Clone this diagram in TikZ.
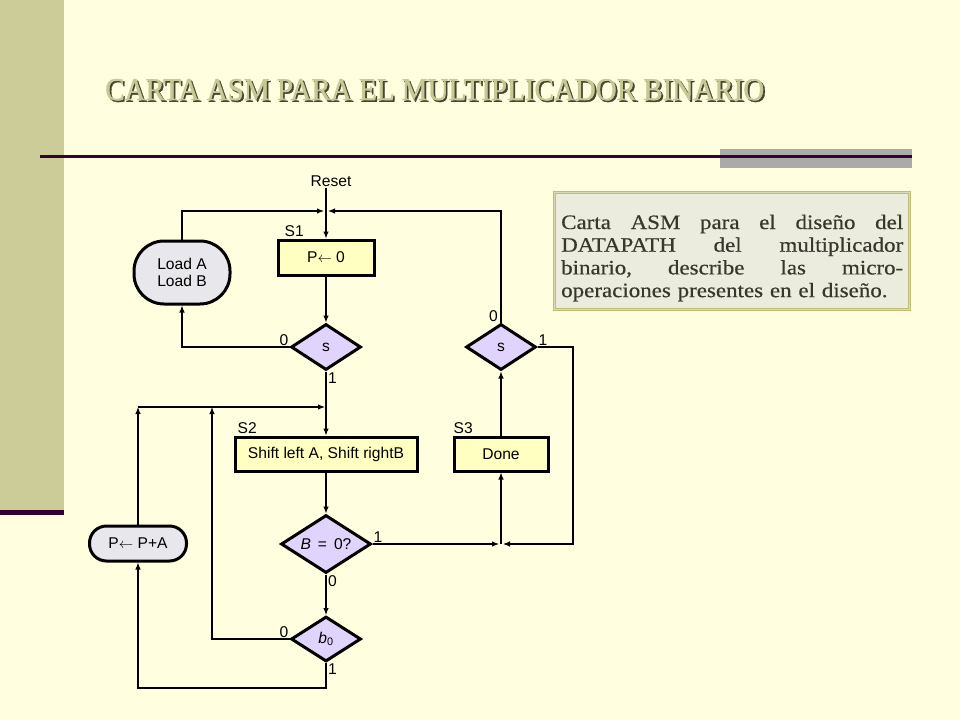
\documentclass[tikz,border=0pt]{standalone}
\usepackage{fontspec}
\usepackage{graphicx}
\setmainfont{Liberation Sans}
\newfontfamily\serifa[FakeBold=1.2]{Liberation Serif}
\newfontfamily\serifaancha[FakeStretch=1.12,FakeBold=0.5]{Liberation Serif}
\usetikzlibrary{shapes.geometric,arrows.meta,positioning}

\definecolor{fondo}{RGB}{255,255,224}
\definecolor{barra}{RGB}{204,204,153}
\definecolor{oscuro}{RGB}{51,0,51}
\definecolor{gris}{RGB}{170,170,170}
\definecolor{titulo}{RGB}{200,200,150}
\definecolor{sombra}{RGB}{70,70,50}
\definecolor{caja}{RGB}{236,236,222}
\definecolor{bordecaja}{RGB}{190,190,118}
\definecolor{textocaja}{RGB}{55,55,45}
\definecolor{amarillo}{RGB}{255,255,194}
\definecolor{lila}{RGB}{225,212,252}
\definecolor{grisclaro}{RGB}{232,232,236}

\begin{document}
\begin{tikzpicture}[x=1pt,y=-1pt]
% Styles
\tikzstyle{flecha}=[-{Latex[length=7pt,width=5.5pt]},line width=1.1pt]
\tikzstyle{estado}=[fill=amarillo,draw,line width=3pt,inner sep=0pt,font=\fontsize{15.6}{17}\selectfont]
\tikzstyle{decision}=[diamond,aspect=1.5,fill=lila,draw,line width=3pt,inner sep=0pt,font=\fontsize{15.6}{17}\selectfont]
\tikzstyle{ovalo}=[fill=grisclaro,draw,line width=3pt,inner sep=0pt,align=center,font=\fontsize{15.6}{16.5}\selectfont]
\tikzstyle{rotulo}=[inner sep=1pt,font=\fontsize{15.6}{17}\selectfont]
% Columnas y filas (en pixeles)
\def\ColSuma{138}
\def\ColCarga{182}
\def\ColRetorno{212}
\def\ColCentro{326}
\def\ColDer{501}
\def\ColExt{573}
\def\FilaJuntaA{211}
\def\FilaDec{347}
\def\FilaJuntaB{407}
\def\FilaEstado{454}
\def\FilaB{544}
\def\FilaBcero{639}
\def\FilaFondo{688}
% Fondo de la diapositiva
\useasboundingbox (0,0) rectangle (960,720);
\fill[fondo] (0,0) rectangle (960,720);
\fill[barra] (0,0) rectangle (64,510);
\fill[oscuro] (0,510) rectangle (64,515);
\fill[gris] (720,149) rectangle (912,168);
\fill[oscuro] (40,155) rectangle (912,158);
\node[anchor=base west,inner sep=0pt,text=sombra] (sombraTitulo) at (106.8,101.8)
  {\serifa\resizebox{659pt}{21pt}{CARTA ASM PARA EL MULTIPLICADOR BINARIO}};
\node[anchor=base west,inner sep=0pt,text=titulo] (titulo) at (105,100)
  {\serifa\resizebox{659pt}{21pt}{CARTA ASM PARA EL MULTIPLICADOR BINARIO}};
% Cuadro de texto
\node[draw=bordecaja,double=caja!60!bordecaja,double distance=1pt,line width=1.2pt,fill=caja,
  minimum width=355pt,minimum height=117pt] (caja) at (732,251) {};
\node[anchor=base west,inner sep=0pt,text width=342pt,text=textocaja,
  font=\serifaancha\fontsize{20.5}{22.7}\selectfont] (texto) at (561,229)
  {Carta\hfill ASM\hfill para\hfill el\hfill diseño\hfill del\\
   DATAPATH\hfill del\hfill multiplicador\\
   binario,\hfill describe\hfill las\hfill micro-\\
   operaciones presentes en el diseño.};
% Noeuds
\node[rotulo] (reset) at (331,181) {Reset};
\node[estado,minimum width=96pt,minimum height=35pt] (S1) at (\ColCentro,257.5) {P$\leftarrow$ 0};
\node[ovalo,minimum width=96pt,minimum height=63pt,rounded corners=30pt] (carga) at (\ColCarga,272.5) {Load A\\Load B};
\node[decision,minimum width=70pt,minimum height=46pt] (s1) at (\ColCentro,\FilaDec) {s};
\node[decision,minimum width=70pt,minimum height=46pt] (s2) at (\ColDer,\FilaDec) {s};
\node[estado,minimum width=182pt,minimum height=34pt] (S2) at (\ColCentro,\FilaEstado) {Shift left A, Shift rightB};
\node[estado,minimum width=94pt,minimum height=34pt] (S3) at (\ColDer,\FilaEstado) {Done};
\node[decision,minimum width=90pt,minimum height=58pt] (B) at (\ColCentro,\FilaB) {\textit{B} \,= \,0?};
\node[decision,minimum width=70pt,minimum height=45pt] (b0) at (\ColCentro,\FilaBcero) {\textit{b}\textsubscript{0}};
\node[ovalo,minimum width=97pt,minimum height=35pt,rounded corners=17pt] (suma) at (\ColSuma,543.5) {P$\leftarrow$ P+A};
% Etiquetas
\node[rotulo,above right=1pt and 7pt of S1.north west] (eS1) {S1};
\node[rotulo,above right=1pt and 3pt of S2.north west] (eS2) {S2};
\node[rotulo,above right=1pt and 0pt of S3.north west] (eS3) {S3};
\node[rotulo,above left=0pt and 0pt of s1.west] (s1cero) {0};
\node[rotulo,below right=0pt and 1pt of s1.south] (s1uno) {1};
\node[rotulo,above left=0pt and 2pt of s2.north] (s2cero) {0};
\node[rotulo,above right=0pt and 0pt of s2.east] (s2uno) {1};
\node[rotulo,above right=0pt and 0pt of B.east] (Buno) {1};
\node[rotulo,below right=0pt and 1pt of B.south] (Bcero) {0};
\node[rotulo,above left=0pt and 0pt of b0.west] (b0cero) {0};
\node[rotulo,below right=0pt and 1pt of b0.south] (b0uno) {1};
% Puntos de union
\coordinate (J1) at (\ColCentro,\FilaJuntaA);
\coordinate (J2) at (\ColCentro,\FilaJuntaB);
\coordinate (J3) at (\ColDer,\FilaB);
\coordinate (C1) at (\ColSuma,\FilaJuntaB);
\coordinate (C2) at (\ColRetorno,\FilaJuntaB);
\coordinate (E1) at (\ColExt,\FilaB);
\coordinate (F1) at (\ColCentro,\FilaFondo);
% Arcs
\draw[flecha] (S1.north |- reset.south) -- (S1);
\draw[flecha,shorten >=2pt] (carga.north) |- (J1);
\draw[flecha,shorten >=2pt] (s2.north) |- (J1);
\draw[flecha] (S1) -- (s1);
\draw[flecha] (s1.west) -| (carga.south);
\draw[flecha] (s1) -- (S2);
\draw[flecha] (suma.north) -- (C1);
\draw[flecha,shorten >=1pt] (C1) -- (J2);
\draw[flecha] (b0.west) -| (C2);
\draw[flecha] (S2) -- (B);
\draw[flecha] (B) -- (b0);
\draw[flecha] (b0.south) -- (F1) -| (suma.south);
\draw[flecha,shorten >=2pt] (B.east) -- (J3);
\draw[flecha,shorten >=2pt] (s2.east) -| (E1) -- (J3);
\draw[flecha] (J3) -- (S3);
\draw[flecha] (S3) -- (s2);
\end{tikzpicture}
\end{document}
